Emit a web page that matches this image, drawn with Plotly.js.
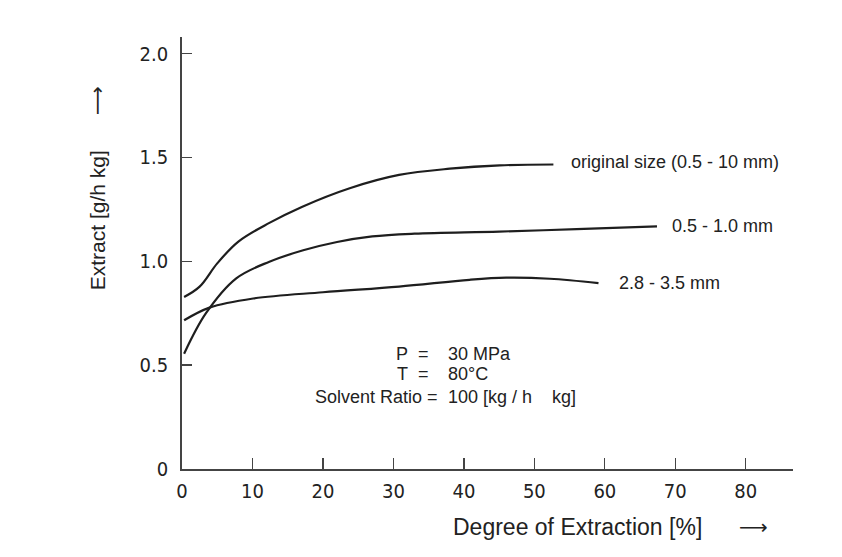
<!DOCTYPE html>
<html>
<head>
<meta charset="utf-8">
<script src="https://cdn.plot.ly/plotly-3.0.1.min.js"></script>
<style>
  html, body { margin: 0; padding: 0; background: #ffffff; }
  #chart { width: 842px; height: 557px; }
</style>
</head>
<body>
<div id="chart"></div>
<script>
// Extraction rate vs. degree of extraction for three particle sizes
const xOriginal = [0.3, 2.5, 5.0, 8.0, 12.4, 17.0, 23.8, 30.8, 38.0, 45.1, 52.7];
const yOriginal = [0.828, 0.878, 0.99, 1.095, 1.185, 1.262, 1.352, 1.416, 1.446, 1.462, 1.466];

const xMid = [0.3, 3.4, 7.7, 12.4, 17.2, 22.0, 27.0, 33.0, 45.0, 56.0, 67.4];
const yMid = [0.555, 0.75, 0.918, 0.998, 1.053, 1.093, 1.12, 1.133, 1.143, 1.155, 1.168];

const xCoarse = [0.3, 3.9, 10.1, 20.0, 30.8, 40.8, 46.0, 52.2, 59.1];
const yCoarse = [0.716, 0.777, 0.821, 0.851, 0.878, 0.911, 0.921, 0.916, 0.895];

const seriesNames = ['original size (0.5 - 10 mm)', '0.5 - 1.0 mm', '2.8 - 3.5 mm'];

const xTicks = [0, 10, 20, 30, 40, 50, 60, 70, 80];
const yTicks = [0, 0.5, 1.0, 1.5, 2.0];
const yTickText = ['0', '0.5', '1.0', '1.5', '2.0'];

const conditionLabels = ['P\u00a0\u00a0=', 'T\u00a0\u00a0=', 'Solvent Ratio ='];
const conditionValues = ['30 MPa', '80°C', '100 [kg / h\u00a0\u00a0\u00a0\u00a0kg]'];

const textFont = { family: 'Liberation Sans, Arial, Helvetica, sans-serif', size: 18, color: '#222222' };
const tickFont = { family: 'DejaVu Sans Condensed, DejaVu Sans, sans-serif', size: 20, color: '#222222' };
const lineStyle = { color: '#1e1e1e', width: 2.2, shape: 'spline', smoothing: 1 };

const traces = [
  { x: xOriginal, y: yOriginal, name: seriesNames[0] },
  { x: xMid, y: yMid, name: seriesNames[1] },
  { x: xCoarse, y: yCoarse, name: seriesNames[2] }
].map(t => Object.assign(t, { type: 'scatter', mode: 'lines', line: lineStyle, hoverinfo: 'x+y+name' }));

// curve labels placed just past the end of each line
const ends = [
  [xOriginal, yOriginal, 2.2],
  [xMid, yMid, 1.9],
  [xCoarse, yCoarse, 2.6]
];
const annotations = ends.map((e, i) => ({
  x: e[0][e[0].length - 1] + e[2],
  y: e[1][e[1].length - 1] + (i === 0 ? 0.01 : 0),
  xref: 'x', yref: 'y',
  text: seriesNames[i],
  showarrow: false,
  xanchor: 'left', yanchor: 'middle',
  font: textFont
}));

// operating conditions block
const condY = [0.555, 0.458, 0.349];
const condLabelX = [35.4, 35.4, 36.6];
conditionLabels.forEach((t, i) => {
  annotations.push({
    x: condLabelX[i], y: condY[i], xref: 'x', yref: 'y',
    text: t, showarrow: false, xanchor: 'right', yanchor: 'middle', font: textFont
  });
  annotations.push({
    x: 37.5, y: condY[i], xref: 'x', yref: 'y',
    text: conditionValues[i], showarrow: false, xanchor: 'left', yanchor: 'middle', font: textFont
  });
});

// axis titles with direction arrows
const titleFont = { family: 'Liberation Sans, Arial, Helvetica, sans-serif', size: 23, color: '#222222' };
const yTitleFont = { family: 'Liberation Sans, Arial, Helvetica, sans-serif', size: 21, color: '#222222' };
const arrowFont = { family: 'DejaVu Sans, sans-serif', size: 20, color: '#222222' };
annotations.push(
  { x: 0.648, y: -0.134, xref: 'paper', yref: 'paper', text: 'Degree of Extraction [%]', showarrow: false,
    xanchor: 'center', yanchor: 'middle', font: titleFont },
  { x: 0.935, y: -0.134, xref: 'paper', yref: 'paper', text: '⟶', showarrow: false,
    xanchor: 'center', yanchor: 'middle', font: arrowFont },
  { x: -0.139, y: 0.576, xref: 'paper', yref: 'paper', text: 'Extract [g/h kg]', showarrow: false, textangle: -90,
    xanchor: 'center', yanchor: 'middle', font: yTitleFont },
  { x: -0.139, y: 0.852, xref: 'paper', yref: 'paper', text: '⟶', showarrow: false, textangle: -90,
    xanchor: 'center', yanchor: 'middle', font: arrowFont }
);

const layout = {
  width: 842, height: 557,
  margin: { l: 182, r: 49, t: 37, b: 88 },
  paper_bgcolor: '#ffffff', plot_bgcolor: '#ffffff',
  showlegend: false,
  xaxis: {
    range: [0, 86.7],
    tickvals: xTicks, ticktext: xTicks.map(String),
    ticks: 'inside', ticklen: 11, tickwidth: 1.3, tickcolor: '#444444',
    showline: true, linecolor: '#444444', linewidth: 1.8,
    showgrid: false, zeroline: false,
    tickfont: tickFont, ticklabelstandoff: 3
  },
  yaxis: {
    range: [0, 2.08],
    tickvals: yTicks, ticktext: yTickText,
    ticks: 'inside', ticklen: 10, tickwidth: 1.3, tickcolor: '#444444',
    showline: true, linecolor: '#444444', linewidth: 1.8,
    showgrid: false, zeroline: false,
    tickfont: tickFont, ticklabelstandoff: 8
  },
  annotations: annotations
};

Plotly.newPlot('chart', traces, layout, { displayModeBar: false, staticPlot: true });
</script>
</body>
</html>
